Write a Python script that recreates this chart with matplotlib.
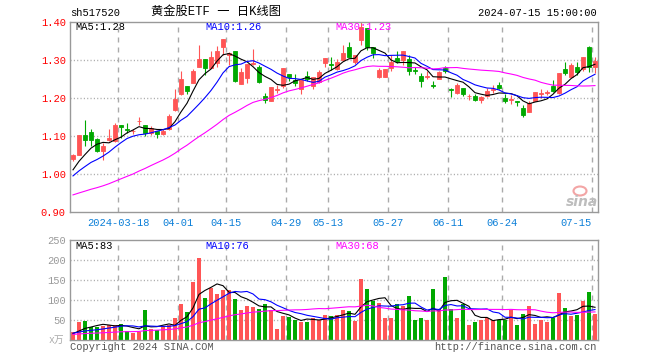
import numpy as np
import pandas as pd
import matplotlib
matplotlib.use('Agg')
import matplotlib.pyplot as plt
from matplotlib.patches import Ellipse

plt.rcParams['font.family'] = ['Liberation Mono', 'Noto Sans CJK SC']
plt.rcParams['lines.scale_dashes'] = False

W, H = 660, 360
RED = '#ff5555'
GREEN = '#00a800'
GRID = '#aaaaaa'

# trading days on the chart
holidays = ['2024-04-04', '2024-04-05', '2024-05-01', '2024-05-02', '2024-05-03', '2024-06-10']
days = pd.bdate_range('2024-03-06', '2024-07-15')
days = days[~days.isin(pd.to_datetime(holidays))]

opens = [1.040, 1.051, 1.102, 1.111, 1.091, 1.061, 1.089, 1.086, 1.130, 1.119,
         1.112, 1.139, 1.128, 1.107, 1.114, 1.105, 1.118, 1.168, 1.211, 1.232,
         1.240, 1.281, 1.302, 1.279, 1.293, 1.333, 1.312, 1.323, 1.237, 1.253,
         1.289, 1.281, 1.205, 1.193, 1.221, 1.231, 1.263, 1.247, 1.223, 1.258,
         1.232, 1.242, 1.293, 1.290, 1.277, 1.300, 1.335, 1.296, 1.353, 1.384,
         1.333, 1.256, 1.256, 1.279, 1.304, 1.300, 1.302, 1.273, 1.258, 1.256,
         1.233, 1.251, 1.279, 1.223, 1.214, 1.226, 1.204, 1.205, 1.195, 1.204,
         1.221, 1.233, 1.200, 1.196, 1.191, 1.175, 1.163, 1.193, 1.211, 1.213,
         1.232, 1.212, 1.277, 1.254, 1.282, 1.277, 1.335, 1.282]
highs = [1.053, 1.102, 1.142, 1.118, 1.095, 1.081, 1.118, 1.135, 1.130, 1.135,
         1.118, 1.151, 1.128, 1.126, 1.114, 1.118, 1.158, 1.223, 1.272, 1.232,
         1.277, 1.339, 1.302, 1.325, 1.337, 1.356, 1.320, 1.323, 1.279, 1.290,
         1.328, 1.288, 1.214, 1.228, 1.235, 1.279, 1.263, 1.263, 1.247, 1.270,
         1.254, 1.274, 1.305, 1.307, 1.302, 1.339, 1.347, 1.314, 1.400, 1.384,
         1.333, 1.279, 1.277, 1.312, 1.325, 1.325, 1.314, 1.282, 1.265, 1.270,
         1.244, 1.272, 1.283, 1.226, 1.239, 1.226, 1.211, 1.211, 1.204, 1.226,
         1.235, 1.242, 1.211, 1.207, 1.191, 1.181, 1.191, 1.216, 1.224, 1.221,
         1.247, 1.267, 1.295, 1.291, 1.296, 1.309, 1.337, 1.307]
lows = [1.035, 1.050, 1.073, 1.075, 1.057, 1.038, 1.086, 1.084, 1.096, 1.107,
        1.105, 1.130, 1.099, 1.103, 1.095, 1.102, 1.116, 1.165, 1.209, 1.211,
        1.239, 1.281, 1.261, 1.279, 1.281, 1.314, 1.288, 1.243, 1.236, 1.239,
        1.287, 1.239, 1.186, 1.191, 1.212, 1.227, 1.244, 1.232, 1.211, 1.244,
        1.223, 1.240, 1.281, 1.274, 1.274, 1.300, 1.307, 1.289, 1.339, 1.326,
        1.305, 1.253, 1.254, 1.270, 1.293, 1.288, 1.261, 1.263, 1.230, 1.249,
        1.226, 1.249, 1.265, 1.202, 1.211, 1.205, 1.195, 1.191, 1.188, 1.202,
        1.212, 1.224, 1.186, 1.183, 1.179, 1.151, 1.163, 1.191, 1.200, 1.207,
        1.216, 1.211, 1.261, 1.252, 1.260, 1.272, 1.268, 1.265]
closes = [1.051, 1.102, 1.089, 1.089, 1.061, 1.075, 1.096, 1.130, 1.123, 1.117,
          1.113, 1.140, 1.107, 1.121, 1.105, 1.112, 1.153, 1.198, 1.249, 1.219,
          1.272, 1.302, 1.279, 1.309, 1.323, 1.356, 1.318, 1.246, 1.268, 1.289,
          1.291, 1.241, 1.195, 1.228, 1.224, 1.279, 1.256, 1.239, 1.247, 1.249,
          1.254, 1.269, 1.305, 1.288, 1.295, 1.319, 1.309, 1.312, 1.386, 1.335,
          1.319, 1.274, 1.277, 1.296, 1.298, 1.323, 1.272, 1.272, 1.246, 1.258,
          1.232, 1.268, 1.272, 1.222, 1.235, 1.211, 1.206, 1.196, 1.202, 1.219,
          1.223, 1.226, 1.193, 1.197, 1.190, 1.156, 1.188, 1.216, 1.213, 1.215,
          1.218, 1.267, 1.267, 1.288, 1.268, 1.309, 1.281, 1.298]
# volume in 万手
vols = [21, 46, 48, 33, 33, 36, 37, 37, 41, 23,
        18, 21, 74, 28, 26, 36, 37, 56, 91, 71,
        146, 206, 106, 129, 114, 124, 124, 103, 76, 86,
        83, 78, 91, 76, 28, 61, 58, 51, 46, 46,
        56, 51, 63, 61, 63, 76, 73, 48, 153, 128,
        98, 93, 56, 56, 91, 86, 111, 51, 56, 51,
        128, 76, 158, 78, 56, 91, 38, 46, 51, 56,
        51, 51, 51, 76, 38, 66, 86, 41, 51, 46,
        56, 118, 81, 61, 63, 98, 121, 66]

# sessions before 03-06, only feed the moving averages
prev_close = [0.950, 0.945, 0.940, 0.935, 0.930, 0.930, 0.935, 0.930, 0.925, 0.926,
              0.910, 0.900, 0.890, 0.885, 0.895, 0.905, 0.910, 0.915, 0.920, 0.925,
              0.970, 0.975, 0.980, 0.985, 0.985, 0.990, 1.000, 1.005, 1.009]
prev_vol = [15, 14, 16, 13, 14, 15, 12, 14, 15, 14,
            10, 11, 9, 12, 10, 11, 12, 11, 10, 12,
            18, 20, 17, 19, 16, 14, 15, 16, 14]

tick_days = ['2024-03-18', '2024-04-01', '2024-04-15', '2024-04-29', '2024-05-13',
             '2024-05-27', '2024-06-11', '2024-06-24', '2024-07-15']
tick_labels = ['2024-03-18', '04-01', '04-15', '04-29', '05-13',
               '05-27', '06-11', '06-24', '07-15']
price_ticks = [0.90, 1.00, 1.10, 1.20, 1.30, 1.40]
vol_ticks = [50, 100, 150, 200, 250]


def px(x, y):
    # pixel position (from top-left) -> figure fraction
    return x / W, 1 - y / H


def moving(prev, vals, n):
    s = pd.Series(list(prev) + list(vals), dtype=float)
    return s.rolling(n).mean().values[len(prev):]


o = np.array(opens)
c = np.array(closes)
x = np.arange(len(days))
colors = np.where(c >= o, RED, GREEN)

fig = plt.figure(figsize=(W / 100, H / 100), dpi=100)
ax1 = fig.add_axes([70 / W, 1 - 212 / H, 528 / W, 190 / H])
ax2 = fig.add_axes([70 / W, 1 - 340 / H, 528 / W, 100 / H])

tick_pos = [days.get_loc(pd.Timestamp(d)) - 0.5 for d in tick_days]

for ax in (ax1, ax2):
    ax.set_xlim(-0.5, len(days) - 0.5)
    for xp in tick_pos:
        ax.axvline(xp, color=GRID, lw=1.0, ls=(0, (3.6, 3.6)), zorder=0)
    for s in ax.spines.values():
        s.set_color('#999999')
        s.set_linewidth(1.0)
    ax.tick_params(length=0)

# price panel
ax1.set_ylim(0.9, 1.4)
for yv in price_ticks[1:-1]:
    ax1.axhline(yv, color=GRID, lw=1.0, ls=(0, (0.8, 1.6)), zorder=0)
ax1.vlines(x, lows, highs, colors=colors, lw=0.8, zorder=2)
ax1.bar(x, np.abs(c - o), bottom=np.minimum(o, c), width=0.68,
        color=colors, edgecolor=colors, linewidth=0.6, zorder=3)
ax1.plot(x, moving(prev_close, closes, 5), color='black', lw=0.8, zorder=4)
ax1.plot(x, moving(prev_close, closes, 10), color='#0000ff', lw=0.8, zorder=4)
ax1.plot(x, moving(prev_close, closes, 30), color='#ff00ff', lw=0.8, zorder=4)

ax1.set_yticks(price_ticks)
ax1.set_yticklabels(['%.2f' % v for v in price_ticks], color='#ff0000', fontsize=7.5)
ax1.set_xticks(tick_pos)
ax1.set_xticklabels(tick_labels, color='#0b7fd8', fontsize=7.5)
ax1.get_xticklabels()[-1].set_ha('right')
ax1.tick_params(axis='y', pad=3)
ax1.tick_params(axis='x', pad=4)

# volume panel
ax2.set_ylim(0, 250)
for yv in vol_ticks[:-1]:
    ax2.axhline(yv, color=GRID, lw=1.0, ls=(0, (0.8, 1.6)), zorder=0)
ax2.bar(x, vols, width=0.78, color=colors, linewidth=0, zorder=2)
ax2.plot(x, moving(prev_vol, vols, 5), color='black', lw=0.8, zorder=4)
ax2.plot(x, moving(prev_vol, vols, 10), color='#0000ff', lw=0.8, zorder=4)
ax2.plot(x, moving(prev_vol, vols, 30), color='#ff00ff', lw=0.8, zorder=4)
ax2.set_yticks(vol_ticks)
ax2.set_yticklabels([str(v) for v in vol_ticks], color='#999999', fontsize=7.5)
ax2.set_xticks([])
ax2.tick_params(axis='y', pad=3)

# header texts
fig.text(*px(70, 13), 'sh517520', va='center', fontsize=7.5)
fig.text(*px(216, 12), '黄金股ETF 一 日K线图', ha='center', va='center', fontsize=8.8)
fig.text(*px(597, 13), '2024-07-15 15:00:00', ha='right', va='center', fontsize=7.5)

# moving average captions
fig.text(*px(75, 27), 'MA5:1.28', va='center', fontsize=7.5, color='black')
fig.text(*px(205, 27), 'MA10:1.26', va='center', fontsize=7.5, color='#0000ff')
fig.text(*px(335, 27), 'MA30:1.23', va='center', fontsize=7.5, color='#ff00ff')
fig.text(*px(75, 246), 'MA5:83', va='center', fontsize=7.5, color='black')
fig.text(*px(205, 246), 'MA10:76', va='center', fontsize=7.5, color='#0000ff')
fig.text(*px(335, 246), 'MA30:68', va='center', fontsize=7.5, color='#ff00ff')

# footer
fig.text(*px(56, 340), 'x万', ha='center', va='center', fontsize=7, color='#aaaaaa')
fig.text(*px(70, 347), 'Copyright 2024 SINA.COM', va='center', fontsize=7.5, color='#555555')
fig.text(*px(597, 347), 'http://finance.sina.com.cn', ha='right', va='center',
         fontsize=7.5, color='#555555')

# sina watermark
fig.patches.append(Ellipse(px(580, 191), 13 / W, 9 / H, transform=fig.transFigure,
                           facecolor='none', edgecolor='#f3a5a5', lw=1.5))
fig.text(*px(582, 202), 'sina', ha='center', va='center', fontsize=10,
         fontweight='bold', fontstyle='italic', color='#bdbdbd', family='DejaVu Sans')

fig.savefig('out.png', dpi=100)
